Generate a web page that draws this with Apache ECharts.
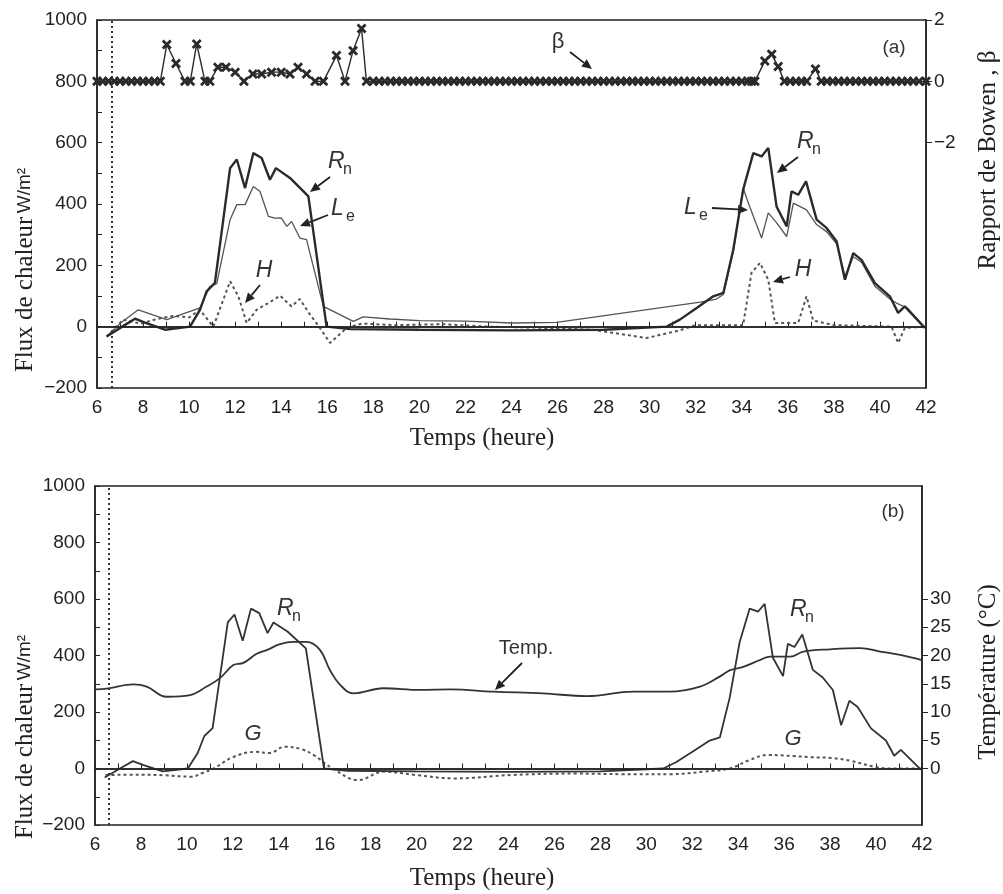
<!DOCTYPE html>
<html>
<head>
<meta charset="utf-8">
<script src="https://cdn.jsdelivr.net/npm/echarts@6/dist/echarts.min.js"></script>
<style>
  html, body { margin: 0; padding: 0; background: #fff; }
  #chart { width: 1003px; height: 894px; }
</style>
</head>
<body>
<div id="chart"></div>
<script>
// --- data (time in hours) ---
const rnTime = [6.42, 7.2, 7.65, 8.08, 8.95, 10.04, 10.47, 10.76, 11.12, 11.78, 12.07, 12.43, 12.79, 13.15, 13.51, 13.77, 14.38, 15.18, 15.97, 17, 20, 24, 28, 30.74, 31.31, 32.04, 32.76, 33.2, 33.63, 34.06, 34.5, 34.86, 35.15, 35.51, 35.95, 36.16, 36.45, 36.79, 37.25, 37.68, 38.12, 38.48, 38.84, 39.2, 39.78, 40.43, 40.79, 41.08, 41.95];
const rnVal  = [-32, 5, 26, 13, -10, 0, 55, 115, 143, 517, 545, 452, 566, 550, 479, 517, 485, 425, 0, -8, -10, -12, -10, 0, 23, 61, 99, 110, 251, 447, 566, 555, 583, 392, 327, 441, 430, 474, 349, 322, 278, 153, 240, 218, 142, 99, 45, 66, -4];

const leTime = [6.42, 7.0, 7.79, 9.03, 10.47, 10.9, 11.2, 11.78, 12.07, 12.43, 12.79, 13.08, 13.44, 13.73, 14.0, 14.24, 14.45, 14.81, 15.1, 15.83, 17.13, 17.56, 18.72, 20, 22, 24, 25.96, 32.2, 32.9, 33.2, 33.63, 34.06, 34.3, 34.86, 35.15, 35.5, 35.95, 36.24, 36.81, 37.25, 37.68, 38.12, 38.48, 38.84, 39.2, 39.78, 40.43, 40.72, 41.2, 41.95];
const leVal  = [-32, 10, 55, 23, 61, 131, 140, 349, 398, 398, 457, 441, 360, 354, 355, 327, 343, 289, 284, 66, 17, 32, 25, 20, 18, 12, 14, 80, 90, 105, 245, 452, 400, 289, 371, 340, 294, 403, 381, 333, 310, 270, 164, 228, 210, 132, 90, 77, 60, -4];

const hTime = [6.42, 7.14, 7.9, 8.6, 9.3, 10.0, 10.47, 11.05, 11.78, 12.14, 12.5, 12.93, 13.4, 13.95, 14.45, 14.81, 15.2, 15.68, 16.12, 16.84, 17.5, 19, 21, 23, 25, 27.5, 28.4, 29.87, 31.3, 32, 34.06, 34.42, 34.79, 35.15, 35.44, 36.45, 36.81, 37.1, 38, 40.5, 40.79, 41.08, 42];
const hVal  = [-32, 23, 10, 25, 35, 30, 55, 0, 148, 99, 12, 55, 75, 101, 66, 90, 45, -4, -53, -4, 10, 5, 8, 0, -3, -10, -20, -37, -12, 5, 5, 175, 208, 153, 12, 12, 99, 20, 5, 0, -53, -4, 0];

const betaTime = [6, 6.25, 6.5, 6.75, 7, 7.25, 7.5, 7.75, 8, 8.25, 8.5, 8.75, 9.03, 9.43, 9.82, 10.05, 10.33, 10.69, 10.9, 11.25, 11.6, 12.0, 12.38, 12.77, 13.15, 13.58, 14.0, 14.38, 14.73, 15.1, 15.47, 15.83, 16.4, 16.77, 17.12, 17.49, 17.7,
  18, 18.25, 18.5, 18.75, 19, 19.25, 19.5, 19.75, 20, 20.25, 20.5, 20.75, 21, 21.25, 21.5, 21.75, 22, 22.25, 22.5, 22.75, 23, 23.25, 23.5, 23.75, 24, 24.25, 24.5, 24.75, 25, 25.25, 25.5, 25.75, 26, 26.25, 26.5, 26.75, 27, 27.25, 27.5, 27.75, 28, 28.25, 28.5, 28.75, 29, 29.25, 29.5, 29.75, 30, 30.25, 30.5, 30.75, 31, 31.25, 31.5, 31.75, 32, 32.25, 32.5, 32.75, 33, 33.25, 33.5, 33.75, 34, 34.25,
  34.43, 34.57, 35.0, 35.3, 35.58, 35.85, 36.1, 36.35, 36.6, 36.82, 37.2, 37.45, 37.7, 37.95, 38.2, 38.45, 38.7, 38.95, 39.2, 39.45, 39.7, 39.95, 40.2, 40.45, 40.7, 40.95, 41.2, 41.45, 41.7, 42];
const betaVal = [0, 0, 0, 0, 0, 0, 0, 0, 0, 0, 0, 0, 1.2, 0.58, 0, 0, 1.22, 0, 0, 0.46, 0.46, 0.3, 0, 0.24, 0.24, 0.3, 0.3, 0.24, 0.46, 0.24, 0, 0, 0.84, 0, 1.0, 1.72, 0,
  0, 0, 0, 0, 0, 0, 0, 0, 0, 0, 0, 0, 0, 0, 0, 0, 0, 0, 0, 0, 0, 0, 0, 0, 0, 0, 0, 0, 0, 0, 0, 0, 0, 0, 0, 0, 0, 0, 0, 0, 0, 0, 0, 0, 0, 0, 0, 0, 0, 0, 0, 0, 0, 0, 0, 0, 0, 0, 0, 0, 0, 0, 0, 0, 0, 0, 0,
  0, 0.66, 0.88, 0.48, 0, 0, 0, 0, 0, 0.4, 0, 0, 0, 0, 0, 0, 0, 0, 0, 0, 0, 0, 0, 0, 0, 0, 0, 0, 0, 0];

const tempTime = [6, 6.58, 7.67, 8.25, 9.12, 10.14, 10.86, 11.44, 12.02, 12.46, 13.04, 13.5, 14.05, 14.63, 15.21, 15.79, 16.23, 16.67, 17.25, 18.55, 20.15, 21.5, 23.35, 25.5, 27.41, 29.44, 31, 32.34, 33.21, 33.65, 34.22, 34.95, 35.39, 36.26, 36.84, 38.0, 39.31, 40.18, 41.05, 41.99];
const tempVal  = [14.0, 14.2, 14.9, 14.5, 12.7, 13.0, 14.5, 16.0, 18.3, 18.7, 20.3, 21.0, 22.0, 22.4, 22.4, 21.0, 17.4, 14.8, 13.3, 14.2, 13.9, 14.0, 13.6, 13.3, 12.8, 13.6, 13.6, 14.5, 16.3, 17.4, 18.0, 19.2, 19.8, 19.8, 20.7, 21.1, 21.3, 20.7, 20.1, 19.2];

const gTime = [6.46, 8, 9, 10.2, 10.7, 11.17, 12, 13.0, 13.6, 14.26, 15.0, 15.51, 16.35, 17.46, 18.57, 19.97, 21.64, 24.15, 26.93, 29, 31.1, 32.5, 33.62, 34.5, 35.29, 36.4, 37.2, 38.07, 38.9, 40.0, 40.86, 42];
const gVal  = [-23, -22, -24, -29, -15, 0, 40, 59, 55, 77, 68, 48, 0, -41, -11, -23, -35, -23, -18, -20, -20, -11, 0, 30, 48, 44, 40, 37, 27, 5, 0, 0];

const startLine = 6.62;  // dotted vertical line
const leftTicks = [-200, 0, 200, 400, 600, 800, 1000];
const bowenTicks = [-2, 0, 2];
const tempTicks = [0, 5, 10, 15, 20, 25, 30];

const pairs = (t, v) => t.map((x, i) => [x, v[i]]);
const minus = v => (v < 0 ? '\u2212' + Math.abs(v) : String(v));

const ink = '#222';
const tickFont = { color: ink, fontSize: 19, fontFamily: 'Liberation Sans' };

function xAxisFor(grid) {
  return {
    type: 'value', gridIndex: grid, min: 6, max: 42, interval: 1,
    axisLine: { lineStyle: { color: ink, width: 1.5 } },
    axisTick: { inside: true, length: 5, lineStyle: { color: ink } },
    axisLabel: Object.assign({ margin: 10, formatter: v => (v % 2 === 0 ? v : '') }, tickFont),
    splitLine: { show: false }
  };
}
function fluxAxis(grid) {
  return {
    type: 'value', gridIndex: grid, min: -200, max: 1000, interval: 100, position: 'left',
    axisLine: { show: true, lineStyle: { color: ink, width: 1.5 } },
    axisTick: { inside: true, length: 5, lineStyle: { color: ink } },
    axisLabel: Object.assign({ margin: 10, formatter: v => (leftTicks.includes(v) ? minus(v) : '') }, tickFont),
    splitLine: { show: false }
  };
}
function rightAxis(grid, min, max, interval, ticks) {
  return {
    type: 'value', gridIndex: grid, min: min, max: max, interval: interval, position: 'right',
    axisLine: { show: true, lineStyle: { color: ink, width: 1.5 } },
    axisTick: { show: true, length: 6, customValues: ticks, lineStyle: { color: ink } },
    axisLabel: Object.assign({ margin: 8, customValues: ticks, formatter: v => (ticks.includes(v) ? minus(v) : '') }, tickFont),
    splitLine: { show: false }
  };
}

const refLines = {
  silent: true, symbol: 'none', label: { show: false }, animation: false,
  data: [
    { yAxis: 0, lineStyle: { color: ink, width: 1.6, type: 'solid' } },
    { xAxis: startLine, lineStyle: { color: '#333', width: 2, type: [2, 3] } }
  ]
};

function arrow(x1, y1, x2, y2) {
  const a = Math.atan2(y2 - y1, x2 - x1), L = 10, W = 4.5;
  const bx = x2 - L * Math.cos(a), by = y2 - L * Math.sin(a);
  return [
    { type: 'line', shape: { x1: x1, y1: y1, x2: bx, y2: by }, style: { stroke: ink, lineWidth: 1.8 } },
    { type: 'polygon', shape: { points: [[x2, y2], [bx + W * Math.sin(a), by - W * Math.cos(a)], [bx - W * Math.sin(a), by + W * Math.cos(a)]] }, style: { fill: ink } }
  ];
}
function label(x, y, s, size, italic, align) {
  return { type: 'text', x: x, y: y, style: { text: s, fill: '#333', fontSize: size, fontFamily: 'Liberation Sans', fontStyle: italic ? 'italic' : 'normal', align: align || 'left', verticalAlign: 'middle' } };
}
function sub(x, y, main, s) {
  return [label(x, y, main, 23, true), label(x + 15, y + 8, s, 16, false)];
}
function vname(x, y, rich) {
  return { type: 'text', x: x, y: y, rotation: Math.PI / 2, style: { text: rich, fill: ink, align: 'center', verticalAlign: 'middle',
    rich: { s: { fontFamily: 'Liberation Serif', fontSize: 25, fill: ink }, u: { fontFamily: 'Liberation Sans', fontSize: 19, fill: ink } } } };
}
function hname(x, y, s) {
  return { type: 'text', x: x, y: y, style: { text: s, fill: ink, fontFamily: 'Liberation Serif', fontSize: 25, align: 'center', verticalAlign: 'middle' } };
}

const graphics = [].concat(
  // panel (a)
  label(558, 42, 'β', 22, false, 'center'), arrow(570, 52, 592, 69),
  label(894, 48, '(a)', 19, false, 'center'),
  sub(328, 162, 'R', 'n'), arrow(330, 177, 310, 192),
  sub(331, 209, 'L', 'e'), arrow(328, 215, 300, 226),
  label(264, 271, 'H', 23, true, 'center'), arrow(260, 285, 245, 303),
  sub(797, 142, 'R', 'n'), arrow(798, 157, 777, 173),
  sub(684, 208, 'L', 'e'), arrow(712, 208, 748, 210),
  label(803, 270, 'H', 23, true, 'center'), arrow(790, 277, 773, 282),
  // panel (b)
  label(893, 512, '(b)', 19, false, 'center'),
  sub(277, 609, 'R', 'n'),
  sub(790, 610, 'R', 'n'),
  label(526, 648, 'Temp.', 20, false, 'center'), arrow(522, 663, 495, 690),
  label(253, 734, 'G', 22, true, 'center'),
  label(793, 739, 'G', 22, true, 'center'),
  // axis names
  vname(25, 270, '{s|Flux de chaleur} {u|W/m²}'),
  vname(25, 737, '{s|Flux de chaleur} {u|W/m²}'),
  vname(988, 160, '{s|Rapport de Bowen , β}'),
  vname(988, 672, '{s|Température (°C)}'),
  hname(482, 438, 'Temps (heure)'),
  hname(482, 878, 'Temps (heure)')
);

const chart = echarts.init(document.getElementById('chart'));
chart.setOption({
  animation: false,
  backgroundColor: '#fff',
  grid: [
    { left: 97, top: 20, width: 829, height: 368, show: true, borderColor: ink, borderWidth: 1.5 },
    { left: 95, top: 486, width: 827, height: 339, show: true, borderColor: ink, borderWidth: 1.5 }
  ],
  xAxis: [xAxisFor(0), xAxisFor(1)],
  yAxis: [
    fluxAxis(0),
    rightAxis(0, -10, 2, 2, bowenTicks),
    fluxAxis(1),
    rightAxis(1, -10, 50, 5, tempTicks)
  ],
  series: [
    { name: 'Le', type: 'line', xAxisIndex: 0, yAxisIndex: 0, data: pairs(leTime, leVal), symbol: 'none',
      lineStyle: { color: '#555', width: 1.3 } },
    { name: 'H', type: 'line', xAxisIndex: 0, yAxisIndex: 0, data: pairs(hTime, hVal), symbol: 'none',
      lineStyle: { color: '#555', width: 2, type: [3, 3] } },
    { name: 'Rn', type: 'line', xAxisIndex: 0, yAxisIndex: 0, data: pairs(rnTime, rnVal), symbol: 'none',
      lineStyle: { color: '#2a2a2a', width: 2.4 }, markLine: refLines },
    { name: 'beta', type: 'line', xAxisIndex: 0, yAxisIndex: 1, data: pairs(betaTime, betaVal),
      symbol: 'path://M0,2L2,0L5,3L8,0L10,2L7,5L10,8L8,10L5,7L2,10L0,8L3,5Z', symbolSize: 10,
      itemStyle: { color: '#2a2a2a' }, lineStyle: { color: '#2a2a2a', width: 1.4 } },
    { name: 'G', type: 'line', xAxisIndex: 1, yAxisIndex: 2, data: pairs(gTime, gVal), symbol: 'none', smooth: 0.4,
      lineStyle: { color: '#555', width: 2, type: [3, 3] } },
    { name: 'Temp', type: 'line', xAxisIndex: 1, yAxisIndex: 3, data: pairs(tempTime, tempVal), symbol: 'none', smooth: 0.4,
      lineStyle: { color: '#333', width: 1.8 } },
    { name: 'Rn b', type: 'line', xAxisIndex: 1, yAxisIndex: 2, data: pairs(rnTime, rnVal), symbol: 'none',
      lineStyle: { color: '#333', width: 1.8 }, markLine: refLines }
  ],
  graphic: graphics
});
</script>
</body>
</html>
